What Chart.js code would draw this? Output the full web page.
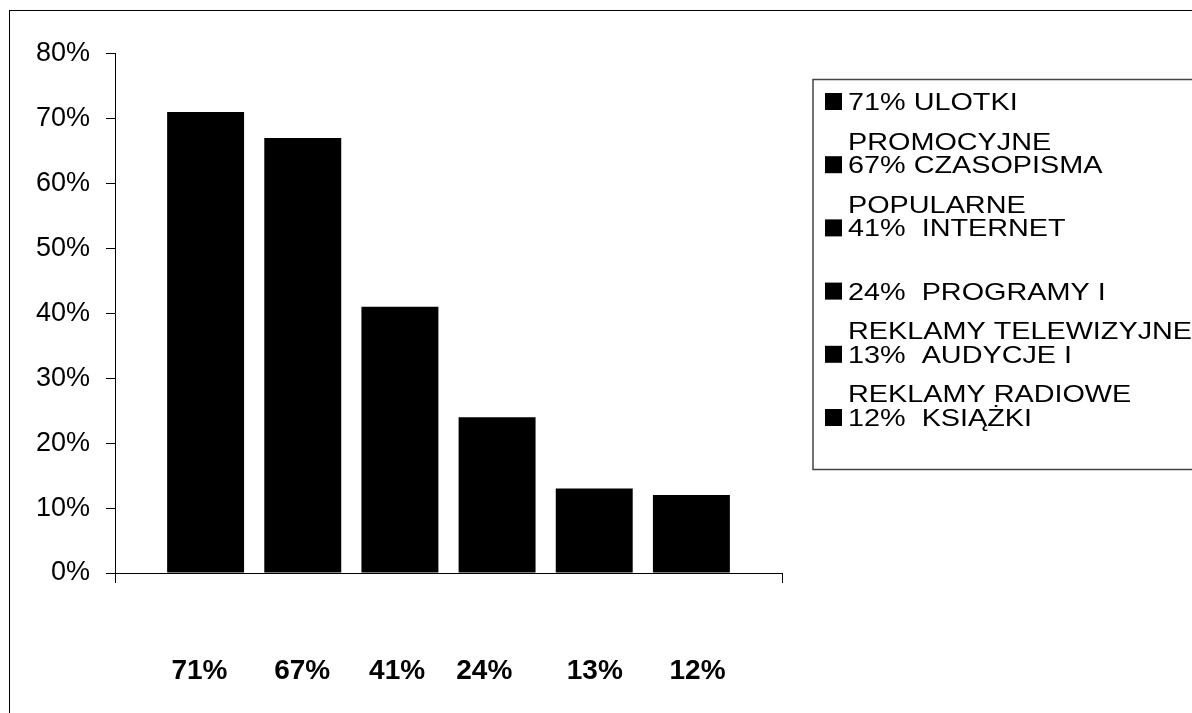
<!DOCTYPE html>
<html lang="pl">
<head>
<meta charset="utf-8">
<title>Źródła informacji</title>
<script src="https://cdn.jsdelivr.net/npm/chart.js@4.4.1/dist/chart.umd.min.js"></script>
<style>
  html, body { margin: 0; padding: 0; background: #fff; overflow: hidden; }
  #wrap { position: relative; width: 1192px; height: 713px; }
  #frame {
    position: absolute; left: 9px; top: 10px; width: 1300px; height: 800px;
    border-left: 1px solid #000; border-top: 1px solid #000; box-sizing: border-box;
  }
  #chart { position: absolute; left: 0; top: 0; }
</style>
</head>
<body>
<div id="wrap">
  <div id="frame"></div>
  <canvas id="chart" width="1192" height="713"></canvas>
</div>
<script>
// Single category: its name lists every share in one line
const categories = ['71%      67%     41%    24%       13%      12%'];

// One series per source of information, the name wrapped over two lines
const seriesNames = [
  '71% ULOTKI\nPROMOCYJNE',
  '67% CZASOPISMA\nPOPULARNE',
  '41%  INTERNET\n',
  '24%  PROGRAMY I\nREKLAMY TELEWIZYJNE',
  '13%  AUDYCJE I\nREKLAMY RADIOWE',
  '12%  KSIĄŻKI'
];
const seriesValues = [71, 67, 41, 24, 13, 12];
const seriesColors = ['#000', '#000', '#000', '#000', '#000', '#000'];

// Value axis: 0% – 80% every 10%
const yMin = 0, yMax = 80, yStep = 10;

const FONT = '"Liberation Sans", Arial, Helvetica, sans-serif';

// Boxed legend on the right, two text lines per entry
const sideLegend = {
  id: 'sideLegend',
  afterDraw(chart) {
    const ctx = chart.ctx;
    ctx.save();
    ctx.strokeStyle = '#444';
    ctx.lineWidth = 1.5;
    ctx.strokeRect(813, 79.5, 420, 390);

    const firstBaseline = 110;
    const entryPitch = 63.2;
    const linePitch = 39.5;
    chart.data.datasets.forEach((ds, i) => {
      const base = firstBaseline + i * entryPitch;
      ctx.fillStyle = ds.backgroundColor;
      ctx.fillRect(825, base - 17, 17, 17);
      ctx.fillStyle = '#000';
      ctx.font = '24px ' + FONT;
      ctx.textBaseline = 'alphabetic';
      ctx.textAlign = 'left';
      ds.label.split('\n').forEach((line, k) => {
        ctx.save();
        ctx.translate(848, base + k * linePitch);
        ctx.scale(1.2, 1);
        ctx.fillText(line, 0, 0);
        ctx.restore();
      });
    });
    ctx.restore();
  }
};

new Chart(document.getElementById('chart'), {
  type: 'bar',
  data: {
    labels: categories,
    datasets: seriesNames.map((name, i) => ({
      label: name,
      data: [seriesValues[i]],
      backgroundColor: seriesColors[i],
      borderWidth: 0,
      categoryPercentage: 0.874,
      barPercentage: 0.792
    }))
  },
  options: {
    responsive: false,
    devicePixelRatio: 1,
    animation: false,
    layout: { padding: { left: 0, top: 53.5, right: 410, bottom: 0 } },
    plugins: {
      legend: { display: false },
      tooltip: { enabled: false },
      title: { display: false }
    },
    scales: {
      x: {
        grid: { drawOnChartArea: false, tickLength: 10, color: '#000', lineWidth: 1 },
        border: { color: '#000', width: 1 },
        ticks: {
          color: '#000',
          padding: 71,
          maxRotation: 0,
          autoSkip: false,
          font: { family: FONT, size: 28, weight: 'bold' }
        },
        afterFit(scale) { scale.height = 140; }
      },
      y: {
        min: yMin,
        max: yMax,
        grid: { drawOnChartArea: false, tickLength: 9, color: '#000', lineWidth: 1 },
        border: { color: '#000', width: 1 },
        ticks: {
          stepSize: yStep,
          color: '#000',
          padding: 16,
          font: { family: FONT, size: 27 },
          callback: v => v + '%'
        },
        afterFit(scale) { scale.width = 115; }
      }
    }
  },
  plugins: [sideLegend]
});
</script>
</body>
</html>
